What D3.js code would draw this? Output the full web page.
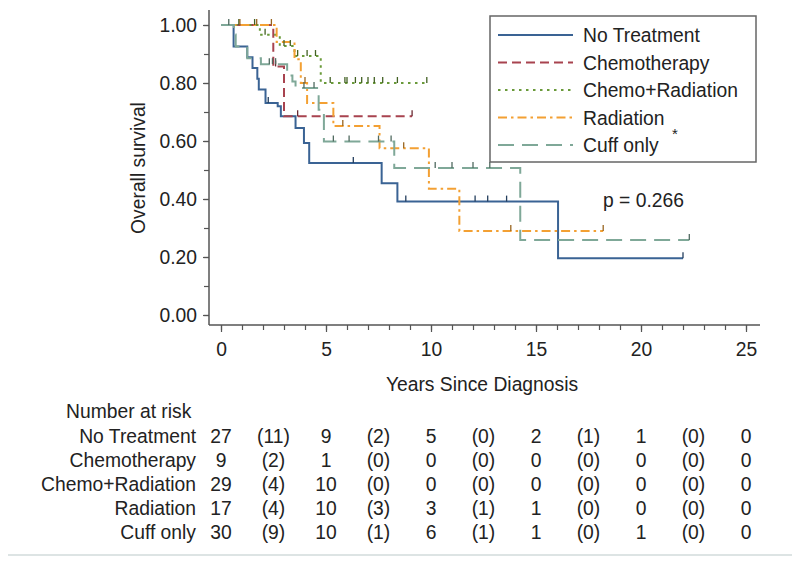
<!DOCTYPE html>
<html><head><meta charset="utf-8">
<script src="https://cdn.jsdelivr.net/npm/d3@7"></script>
<style>
body{margin:0;background:#fff;}
svg{display:block;font-family:"Liberation Sans",Arial,sans-serif;}
</style></head>
<body><svg id="c" width="800" height="568"></svg>
<script>
// ---- data ----
const groups = ["No Treatment","Chemotherapy","Chemo+Radiation","Radiation","Cuff only"];
const colors = ["#3a6394","#a8434f","#6a9a3a","#f3a033","#7fa898"];

const noTxTimes = [0.6,1.25,1.5,1.73,1.8,2.12,2.7,2.85,3.55,3.95,4.2,7.65,8.4,16.05];
const noTxSurv  = [0.926,0.889,0.852,0.815,0.778,0.731,0.72,0.685,0.645,0.593,0.524,0.454,0.391,0.196];
const noTxCensor = [2.25,6.3,8.8,12.1,12.7,13.6,22.0];

const chemoTimes = [2.49,3.0];
const chemoSurv  = [0.857,0.685];
const chemoCensor = [2.6,3.65,9.1];

const chemoRadTimes = [1.85,2.8,3.5,4.75];
const chemoRadSurv  = [0.966,0.928,0.893,0.80];
const chemoRadCensor = [0.85,1.6,2.1,3.0,3.3,3.65,4.1,4.5,5.2,5.9,6.0,6.4,6.7,7.0,7.3,7.7,8.4,9.8];

const radTimes = [2.65,3.5,3.8,4.1,5.35,7.55,9.9,11.35];
const radSurv  = [0.941,0.882,0.80,0.731,0.652,0.575,0.435,0.29];
const radCensor = [0.9,1.7,2.4,4.0,5.8,8.7,13.8,18.2];

const cuffTimes = [0.62,0.7,1.25,1.9,3.15,3.4,3.55,4.65,4.9,8.25,14.25];
const cuffSurv  = [0.967,0.926,0.885,0.865,0.826,0.805,0.783,0.708,0.598,0.507,0.259];
const cuffCensor = [0.37,2.3,2.45,2.6,3.95,4.43,5.35,6.1,7.5,8.1,10.2,11.0,12.0,12.8,22.3];

const xTicks = [0,5,10,15,20,25];
const yTicks = [0,0.2,0.4,0.6,0.8,1.0];
const riskTimes = [0,2.5,5,7.5,10,12.5,15,17.5,20,22.5,25];
const riskNoTx = ["27","(11)","9","(2)","5","(0)","2","(1)","1","(0)","0"];
const riskChemo = ["9","(2)","1","(0)","0","(0)","0","(0)","0","(0)","0"];
const riskChemoRad = ["29","(4)","10","(0)","0","(0)","0","(0)","0","(0)","0"];
const riskRad = ["17","(4)","10","(3)","3","(1)","1","(0)","0","(0)","0"];
const riskCuff = ["30","(9)","10","(1)","6","(1)","1","(0)","1","(0)","0"];
const pText = "p = 0.266";

// ---- build ----
const series = [
  {times:noTxTimes, surv:noTxSurv, cens:noTxCensor, dash:null},
  {times:chemoTimes, surv:chemoSurv, cens:chemoCensor, dash:"9,5"},
  {times:chemoRadTimes, surv:chemoRadSurv, cens:chemoRadCensor, dash:"2.5,4.5"},
  {times:radTimes, surv:radSurv, cens:radCensor, dash:"9,4,2.5,4"},
  {times:cuffTimes, surv:cuffSurv, cens:cuffCensor, dash:"16,8"}
];
const risk = [riskNoTx, riskChemo, riskChemoRad, riskRad, riskCuff];

const svg = d3.select("#c");
const font = "19.3px";
const x = d3.scaleLinear().domain([0,25]).range([221,746]);
const y = d3.scaleLinear().domain([0,1]).range([315,25]);
const axisX0 = 209, axisY0 = 325;

// axes lines
svg.append("line").attr("x1",axisX0).attr("x2",axisX0).attr("y1",10).attr("y2",axisY0)
  .attr("stroke","#555").attr("stroke-width",1.5);
svg.append("line").attr("x1",axisX0).attr("x2",760).attr("y1",axisY0).attr("y2",axisY0)
  .attr("stroke","#555").attr("stroke-width",1.5);

// x ticks
const gx = svg.append("g").attr("transform",`translate(0,${axisY0})`)
  .call(d3.axisBottom(x).tickValues(d3.range(0,26,1)).tickSize(5).tickFormat(""));
gx.select(".domain").remove();
gx.selectAll("line").attr("stroke","#555").attr("stroke-width",1.2);
const gx2 = svg.append("g").attr("transform",`translate(0,${axisY0})`)
  .call(d3.axisBottom(x).tickValues(xTicks).tickSize(7).tickPadding(10).tickFormat(d3.format("d")));
gx2.select(".domain").remove();
gx2.selectAll("line").attr("stroke","#555").attr("stroke-width",1.2);
gx2.selectAll("text").attr("font-size",font).attr("fill","#222").attr("font-family","Liberation Sans, Arial, sans-serif");

// y ticks
const gy = svg.append("g").attr("transform",`translate(${axisX0},0)`)
  .call(d3.axisLeft(y).tickValues(d3.range(0,1.01,0.1)).tickSize(5).tickFormat(""));
gy.select(".domain").remove();
gy.selectAll("line").attr("stroke","#555").attr("stroke-width",1.2);
const gy2 = svg.append("g").attr("transform",`translate(${axisX0},0)`)
  .call(d3.axisLeft(y).tickValues(yTicks).tickSize(6).tickPadding(6).tickFormat(d3.format(".2f")));
gy2.select(".domain").remove();
gy2.selectAll("line").attr("stroke","#555").attr("stroke-width",1.2);
gy2.selectAll("text").attr("font-size",font).attr("fill","#222").attr("font-family","Liberation Sans, Arial, sans-serif");

// axis titles
svg.append("text").attr("x",482).attr("y",391).attr("text-anchor","middle")
  .attr("font-size",font).attr("fill","#222").text("Years Since Diagnosis");
svg.append("text").attr("transform","translate(145,168) rotate(-90)").attr("text-anchor","middle")
  .attr("font-size",font).attr("fill","#222").text("Overall survival");

// curves
const line = d3.line().x(d=>x(d[0])).y(d=>y(d[1])).curve(d3.curveStepAfter);
function survAt(s,t){let v=1;for(let i=0;i<s.times.length;i++){if(s.times[i]<=t)v=s.surv[i];}return v;}
series.forEach((s,i)=>{
  const end = Math.max(d3.max(s.cens), d3.max(s.times));
  const pts = [[0,1]];
  s.times.forEach((t,k)=>pts.push([t,s.surv[k]]));
  pts.push([end, s.surv[s.surv.length-1]]);
  svg.append("path").attr("d",line(pts)).attr("fill","none").attr("stroke",colors[i])
    .attr("stroke-width",2).attr("stroke-dasharray",s.dash);
});
series.forEach((s,i)=>{
  const dc = d3.color(colors[i]).darker(1.3);
  svg.append("g").selectAll("line").data(s.cens).join("line")
    .attr("x1",d=>x(d)).attr("x2",d=>x(d))
    .attr("y1",d=>y(survAt(s,d))).attr("y2",d=>y(survAt(s,d))-6)
    .attr("stroke",dc).attr("stroke-width",1.3);
});

// legend
const lg = svg.append("g");
lg.append("rect").attr("x",490).attr("y",16).attr("width",266).attr("height",146)
  .attr("fill","#fff").attr("stroke","#666").attr("stroke-width",1.5);
groups.forEach((g,i)=>{
  const yy = 35 + i*27.5;
  lg.append("line").attr("x1",498).attr("x2",573).attr("y1",yy).attr("y2",yy)
    .attr("stroke",colors[i]).attr("stroke-width",2).attr("stroke-dasharray",series[i].dash);
  lg.append("text").attr("x",583).attr("y",yy+7).attr("font-size",font).attr("fill","#222").text(g);
});
lg.append("text").attr("x",672).attr("y",139).attr("font-size","15px").attr("fill","#222").text("*");

// p value
svg.append("text").attr("x",603).attr("y",207).attr("font-size",font).attr("fill","#222").text(pText);

// risk table
svg.append("text").attr("x",66).attr("y",418).attr("font-size",font).attr("fill","#222").text("Number at risk");
groups.forEach((g,i)=>{
  const yy = 443 + i*24;
  svg.append("text").attr("x",196).attr("y",yy).attr("text-anchor","end").attr("font-size",font).attr("fill","#222").text(g);
  svg.append("g").selectAll("text").data(risk[i]).join("text")
    .attr("x",(d,k)=>x(riskTimes[k])).attr("y",yy).attr("text-anchor","middle")
    .attr("font-size",font).attr("fill","#222").text(d=>d);
});

// bottom frame line
svg.append("line").attr("x1",8).attr("x2",792).attr("y1",555).attr("y2",555).attr("stroke","#dde4e4").attr("stroke-width",2);
</script></body></html>
